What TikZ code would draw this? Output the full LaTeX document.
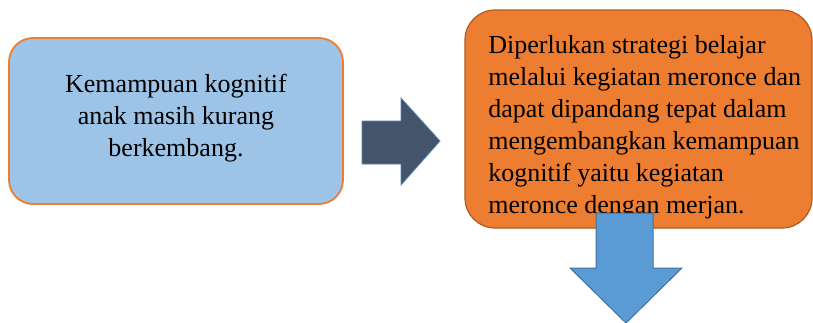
\documentclass[tikz,border=0pt]{standalone}
\usepackage{fontspec}
\setmainfont{Liberation Serif}
\definecolor{lblue}{HTML}{9DC3E6}
\definecolor{orng}{HTML}{ED7D31}
\definecolor{orngdk}{HTML}{AE5A21}
\definecolor{slate}{HTML}{44546A}
\definecolor{mblue}{HTML}{5B9BD5}
\definecolor{mbluedk}{HTML}{41719C}
\tikzset{
  boxtext/.style={inner sep=0pt, font=\fontsize{13}{16}\selectfont, text=black},
}
\begin{document}
\begin{tikzpicture}[x=0.5pt,y=-0.5pt]
\useasboundingbox (0,0) rectangle (813,322);
% left box
\draw[fill=lblue, draw=orng, line width=0.9pt, rounded corners=12pt] (9,38) rectangle (343,204);
\node[boxtext, align=center] (left) at (176,118) {Kemampuan kognitif\\anak masih kurang\\berkembang.};
% right arrow
\draw[fill=slate, draw=mblue!70!slate, line width=0.4pt]
  (362,121) -- (401,121) -- (401,98) -- (440,141) -- (401,185) -- (401,164) -- (362,164) -- cycle;
% right box
\draw[fill=orng, draw=orngdk, line width=0.6pt, rounded corners=15pt] (465,10) rectangle (812,228);
\node[boxtext, align=left, anchor=north west] (right) at (488,35) {Diperlukan strategi belajar\\melalui kegiatan meronce dan\\dapat dipandang tepat dalam\\mengembangkan kemampuan\\kognitif yaitu kegiatan\\meronce dengan merjan.};
% down arrow
\draw[fill=mblue, draw=mbluedk, line width=0.5pt]
  (596,213) -- (653,213) -- (653,268) -- (682,268) -- (626,323) -- (570,268) -- (596,268) -- cycle;
\end{tikzpicture}
\end{document}
